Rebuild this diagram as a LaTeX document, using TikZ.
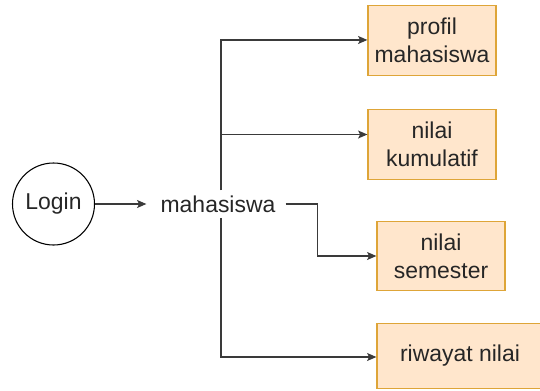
\documentclass[tikz,border=0pt]{standalone}
\usepackage{fontspec}
\setmainfont{Liberation Sans}
\usetikzlibrary{arrows.meta}
\definecolor{boxfill}{HTML}{FFE6CC}
\definecolor{boxdraw}{HTML}{DEA538}
\definecolor{linec}{HTML}{3A3A3A}
\definecolor{textc}{HTML}{262626}
\tikzset{
  lbl/.style={font=\fontsize{17.2}{21}\selectfont, text=textc, align=center},
  orangebox/.style={lbl, draw=boxdraw, fill=boxfill, line width=0.9pt, inner sep=0pt},
  conn/.style={draw=linec, line width=0.9pt, -{Stealth[length=7pt,width=6pt,inset=1.5pt]}},
}
\begin{document}
\begin{tikzpicture}[x=0.75pt,y=-0.75pt]
\useasboundingbox (0,0) rectangle (540,390);
\clip (0,0) rectangle (540,390);
\coordinate (tx) at (221,0);
\node[lbl, circle, draw=black, line width=0.8pt, minimum size=61.5pt, inner sep=0pt] (login) at (53.5,204) {Login};
\node[lbl, inner xsep=7.5pt, inner ysep=0pt, minimum height=20.25pt] (mah) at (218,204) {mahasiswa};
\node[orangebox, minimum width=96pt, minimum height=52.5pt] (profil) at (432,40.5) {profil\\mahasiswa};
\node[orangebox, minimum width=96pt, minimum height=52.5pt] (kum) at (432,144.5) {nilai\\kumulatif};
\node[orangebox, minimum width=96pt, minimum height=51.75pt] (sem) at (441,256) {nilai\\semester};
\node[orangebox, minimum width=124.5pt, minimum height=48.75pt] (riw) at (460,356) {riwayat nilai};
\draw[conn] (login.east) -- ([xshift=-3pt]mah.west |- login.east);
\draw[conn] (mah.north -| tx) |- ([yshift=0.4pt]profil.west);
\draw[conn] (mah.north -| tx) |- ([yshift=7.5pt]kum.west);
\draw[conn] (mah.south -| tx) |- ([yshift=-0.75pt]riw.west);
\draw[conn] (mah.east) -- ++(32,0) |- (sem.west);
\end{tikzpicture}
\end{document}
